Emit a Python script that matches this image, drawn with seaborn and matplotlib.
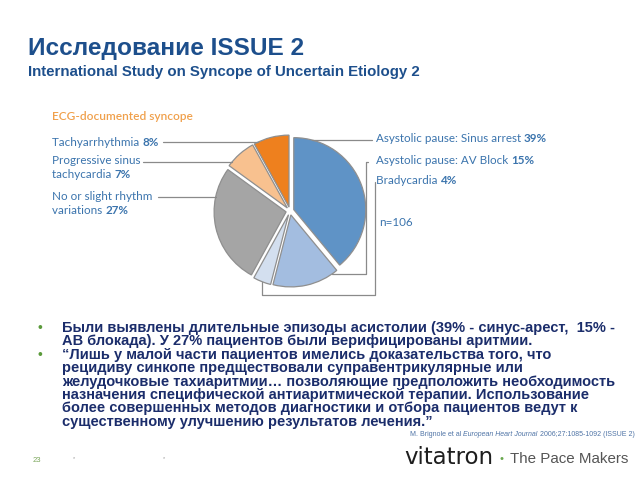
import numpy as np
import matplotlib
matplotlib.use("Agg")
import matplotlib.pyplot as plt
import seaborn as sns

# --- данные ---
categories = ["Asystolic pause: Sinus arrest", "Asystolic pause: AV Block", "Bradycardia",
              "No or slight rhythm variations", "Progressive sinus tachycardia", "Tachyarrhythmia"]
shares = [39, 15, 4, 27, 7, 8]
slice_colors = ["#5f93c6", "#a3bde0", "#d3dfef", "#a5a5a5", "#f8c18f", "#ee801e"]
n_total = 106

bullet_lines = [
    ["Были выявлены длительные эпизоды асистолии (39% - синус-арест,  15% -",
     "АВ блокада). У 27% пациентов были верифицированы аритмии."],
    ["“Лишь у малой части пациентов имелись доказательства того, что",
     "рецидиву синкопе предществовали суправентрикулярные или",
     "желудочковые тахиаритмии… позволяющие предположить необходимость",
     "назначения специфической антиаритмической терапии. Использование",
     "более совершенных методов диагностики и отбора пациентов ведут к",
     "существенному улучшению результатов лечения.”"],
]

sns.set_style("white")
plt.rcParams["font.family"] = ["Liberation Sans", "DejaVu Sans"]

W, H = 640, 480
fig = plt.figure(figsize=(6.4, 4.8), dpi=100)
ax = fig.add_axes([0, 0, 1, 1])


def Y(py):
    # пиксели сверху -> координаты оси
    return H - py


# --- круговая диаграмма ---
# explode у matplotlib задаётся в единицах данных (здесь пиксели)
cx, cy, R, expl = 290, 211, 72, 4.0
wedges, _ = ax.pie(shares, colors=slice_colors, startangle=90, counterclock=False,
                   explode=[expl] * len(shares), center=(cx, Y(cy)), radius=R,
                   wedgeprops=dict(edgecolor="#8f8f8f", linewidth=0.9))
ax.set_xlim(0, W)
ax.set_ylim(0, H)
ax.set_aspect("auto")
ax.axis("off")

# центры кругов с учётом смещения
cum = np.cumsum([0] + shares[:-1])
offsets = []
for i, s in enumerate(shares):
    mid = np.deg2rad(90 - (cum[i] + s / 2) / sum(shares) * 360)
    offsets.append((cx + expl * np.cos(mid), cy - expl * np.sin(mid), mid))


def rim_x(i, py, side):
    ox, oy, _ = offsets[i]
    return ox + side * np.sqrt(R ** 2 - (py - oy) ** 2)


def rim_mid(i):
    ox, oy, mid = offsets[i]
    return ox + R * np.cos(mid), oy - R * np.sin(mid)


line_kw = dict(color="#8a8a8a", lw=0.9)

# выноски справа
ax.plot([372, rim_x(0, 140, 1)], [Y(140), Y(140)], **line_kw)
ax.plot([368, 366, 366, rim_x(1, 274, 1)], [Y(162), Y(162), Y(274), Y(274)], **line_kw)
bx, by = rim_mid(2)
ax.plot([375, 375, bx, bx], [Y(182), Y(295), Y(295), Y(by)], **line_kw)
# выноски слева
ax.plot([163, rim_x(5, 142, -1)], [Y(142), Y(142)], **line_kw)
ax.plot([143, rim_x(4, 162, -1)], [Y(162), Y(162)], **line_kw)
ax.plot([158, rim_x(3, 197, -1)], [Y(197), Y(197)], **line_kw)

renderer = fig.canvas.get_renderer()


def segs(x, py, parts, size, color, family="Lato", va="center"):
    # пишет куски текста подряд (обычный / жирный)
    for txt, weight, style in parts:
        t = ax.text(x, Y(py), txt, fontsize=size, color=color, fontweight=weight,
                    fontstyle=style, family=family, va=va, ha="left")
        bb = t.get_window_extent(renderer=renderer)
        x += bb.width * W / fig.bbox.width
    return x


lab_c = "#3b74ad"
fs = 8.4
ax.text(52, Y(117), "ECG-documented syncope", fontsize=8.6, color="#f0a04b",
        family="Lato", fontweight="semibold", va="center")
segs(52, 142, [("Tachyarrhythmia ", "normal", "normal"), (f"{shares[5]}%", "bold", "normal")], fs, lab_c)
segs(52, 160, [("Progressive sinus", "normal", "normal")], fs, lab_c)
segs(52, 175, [("tachycardia ", "normal", "normal"), (f"{shares[4]}%", "bold", "normal")], fs, lab_c)
segs(52, 196, [("No or slight rhythm", "normal", "normal")], fs, lab_c)
segs(52, 211, [("variations ", "normal", "normal"), (f"{shares[3]}%", "bold", "normal")], fs, lab_c)

segs(376, 139, [("Asystolic pause: Sinus arrest ", "normal", "normal"), (f"{shares[0]}%", "bold", "normal")], fs, lab_c)
segs(376, 160, [("Asystolic pause: AV Block ", "normal", "normal"), (f"{shares[1]}%", "bold", "normal")], fs, lab_c)
segs(376, 181, [("Bradycardia ", "normal", "normal"), (f"{shares[2]}%", "bold", "normal")], fs, lab_c)
ax.text(379, Y(222), f"n={n_total}", fontsize=fs, color=lab_c, family="Lato", va="center")

# --- заголовки ---
title_c = "#1d4f8c"
ax.text(28, Y(48), "Исследование ISSUE 2", fontsize=17.6, fontweight="bold",
        color=title_c, va="center")
ax.text(28, Y(72), "International Study on Syncope of Uncertain Etiology 2",
        fontsize=10.8, fontweight="bold", color=title_c, va="center")

# --- список ---
text_c = "#1b2d6b"
py = 328
for block in bullet_lines:
    ax.text(37, Y(py), "•", fontsize=10, color="#5a9a3a", va="center")
    for line in block:
        ax.text(62, Y(py), line, fontsize=10.5, fontweight="bold", color=text_c, va="center")
        py += 13.4

# --- ссылка и подвал ---
cite_c = "#4f74a6"
segs(410, 434, [("M. Brignole et al ", "normal", "normal"),
                ("European Heart Journal", "normal", "italic"),
                (" 2006;27:1085-1092 (ISSUE 2)", "normal", "normal")],
     5.0, cite_c, family="Liberation Sans")

ax.text(404, Y(458), "vitatron", fontsize=16.5, color="#1e1e1e", family="DejaVu Sans",
        va="center")
ax.text(499, Y(459), "•", fontsize=8, color="#6aa84f", va="center")
ax.text(510, Y(459), "The Pace Makers", fontsize=10.9, color="#555555", va="center")
ax.text(33, Y(461), "23", fontsize=5.5, color="#7aa65a", va="center")
ax.text(73, Y(459), "*", fontsize=4, color="#999999", va="center")
ax.text(163, Y(459), "*", fontsize=4, color="#999999", va="center")

fig.savefig("out.png", dpi=100)
